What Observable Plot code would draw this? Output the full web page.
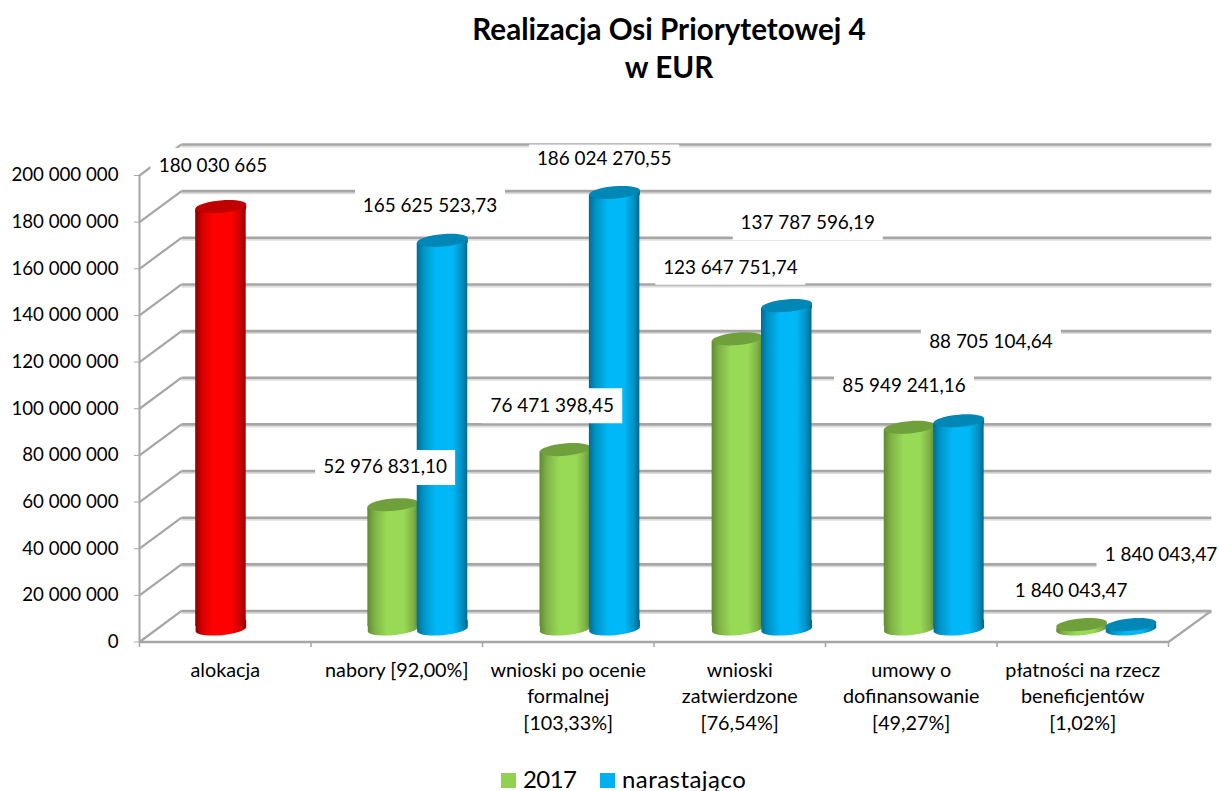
<!DOCTYPE html>
<html lang="pl">
<head>
<meta charset="utf-8">
<script src="https://cdn.jsdelivr.net/npm/d3@7"></script>
<script src="https://cdn.jsdelivr.net/npm/@observablehq/plot@0.6"></script>
<style>
  html, body { margin: 0; padding: 0; background: #fff; width: 1219px; height: 791px; overflow: hidden; font-family: Lato, "Open Sans", sans-serif; color: #000; }
  #title { height: 95px; margin-left: 119px; box-sizing: border-box; padding-top: 10px; text-align: center; font-weight: 700; font-size: 29.6px; line-height: 38px; }
  #chart svg { display: block; overflow: hidden; }
  #legend { position: relative; height: 41px; font-size: 24px; line-height: 24px; }
  #legend span { position: absolute; top: 23px; display: block; width: 15px; height: 15px; }
  #legend b { position: absolute; top: 17px; font-weight: 400; white-space: nowrap; }
</style>
</head>
<body>
<div id="title">Realizacja Osi Priorytetowej 4<br>w EUR</div>
<div id="chart"></div>
<div id="legend">
  <span style="left:501px;background:#92d050"></span><b style="left:523px;letter-spacing:-.6px">2017</b>
  <span style="left:600px;background:#00b0f0"></span><b style="left:622px;letter-spacing:.45px">narastająco</b>
</div>
<script>
// ---- data ----
const categories = [
  "alokacja",
  "nabory [92,00%]",
  "wnioski po ocenie\nformalnej\n[103,33%]",
  "wnioski\nzatwierdzone\n[76,54%]",
  "umowy o\ndofinansowanie\n[49,27%]",
  "płatności na rzecz\nbeneficjentów\n[1,02%]"
];
const alokacja = [180030665];
const values2017 = [null, 52976831.10, 76471398.45, 123647751.74, 85949241.16, 1840043.47];
const valuesNarastajaco = [null, 165625523.73, 186024270.55, 137787596.19, 88705104.64, 1840043.47];
const yTicks = [0, 20e6, 40e6, 60e6, 80e6, 100e6, 120e6, 140e6, 160e6, 180e6, 200e6];

// ---- layout ----
const fontFamily = "Lato, 'Open Sans', sans-serif";
const labelSize = 18.9, tickSize = 18.7, categorySize = 19.8;
const gridColor = "#a6a6a6";
const depthX = 0.245, depthY = 13.3e6;       // 3D depth of the wall, in scale units
const slotStart = 0.475, slotStep = 1.0037, barWidth = 0.2945, seriesOffset = 0.288;
const baseLift = -13, radius = 25.5;
const topLift = (v) => baseLift - (v / 186e6) * 2.6;
const center = (i, s) => slotStart + i * slotStep + s * seriesOffset;

// per-label placement: [category, series, dx, dy, box width, box height]
const labelPlacement = [
  [0, 0, -8, -56.6, 125, 35],
  [1, 0, -8, -51, 140, 35],
  [1, 1, -12.5, -50, 150, 35],
  [2, 0, -13, -58, 140, 35],
  [2, 1, -10.5, -49.6, 150, 28],
  [3, 0, -7, -85.4, 150, 33],
  [3, 1, 21, -98, 150, 35],
  [4, 0, -5.5, -55.3, 140, 35],
  [4, 1, 32, -93.6, 140, 35],
  [5, 0, -10.5, -47.2, 128, 35],
  [5, 1, 30, -83.2, 129, 35]
];

const plLocale = d3.formatLocale({decimal: ",", thousands: " ", grouping: [3], currency: ["", ""]});
const fmt2 = plLocale.format(",.2f"), fmt0 = plLocale.format(",.0f");

const rows = (values, s) => values
  .map((value, i) => ({i, value, s, c: center(i, s)}))
  .filter((d) => d.value != null);
const barRed = rows(alokacja, 0);
const barGreen = rows(values2017, 0);
const barBlue = rows(valuesNarastajaco, 1);

function ellipse(ry, tiltDeg) {
  return {
    draw(ctx, size) {
      const rx = Math.sqrt(size / Math.PI), k = 0.5523, a = tiltDeg * Math.PI / 180;
      const p = (x, y) => [x * Math.cos(a) - y * Math.sin(a), x * Math.sin(a) + y * Math.cos(a)];
      ctx.moveTo(...p(rx, 0));
      ctx.bezierCurveTo(...p(rx, k * ry), ...p(k * rx, ry), ...p(0, ry));
      ctx.bezierCurveTo(...p(-k * rx, ry), ...p(-rx, k * ry), ...p(-rx, 0));
      ctx.bezierCurveTo(...p(-rx, -k * ry), ...p(-k * rx, -ry), ...p(0, -ry));
      ctx.bezierCurveTo(...p(k * rx, -ry), ...p(rx, -k * ry), ...p(rx, 0));
      ctx.closePath();
    }
  };
}
const box = (w, h) => ({
  draw(ctx) { ctx.rect(-w / 2, -h / 2, w, h); }
});
const disc = ellipse(6.2, -5);

const cylinder = (data, fill, capFill) => data.flatMap((d) => {
  const one = [d], top = topLift(d.value), tall = d.value > 5e6;
  const baseShifts = tall ? [0, -1.5, -3, -4.5, -6] : [0];
  const topShifts = tall ? [3.5, 2.5, 1.2] : [2.5];
  return [
    ...baseShifts.map((s) => Plot.dot(one, {x: "c", y: () => 0, r: radius, symbol: disc, fill, dy: baseLift + s})),
    ...(tall ? [Plot.rectY(one, {x1: (r) => r.c - barWidth / 2, x2: (r) => r.c + barWidth / 2, y1: (r) => -(r.value / 186e6) * 1.1e6, y2: "value", fill, dy: top, insetTop: 2.5, insetBottom: 2.5})] : []),
    ...topShifts.map((s) => Plot.dot(one, {x: "c", y: "value", r: radius, symbol: disc, fill, dy: top + s})),
    Plot.dot(one, {x: "c", y: "value", r: radius, symbol: disc, fill: capFill, dy: top})
  ];
});

const labels = labelPlacement.map(([i, s, dx, dy, w, h]) => {
  const bar = i === 0 ? barRed[0] : (s === 0 ? barGreen : barBlue).find((d) => d.i === i);
  return {bar, dx, dy, w, h, text: i === 0 ? fmt0(bar.value) : fmt2(bar.value)};
});

const gradientDefs = () => d3.create("svg:defs").html(`
  <linearGradient id="gRed"><stop offset="0" stop-color="#8c0000"/><stop offset=".14" stop-color="#d80000"/><stop offset=".35" stop-color="#ff0000"/><stop offset=".7" stop-color="#ff0000"/><stop offset=".88" stop-color="#d00000"/><stop offset="1" stop-color="#980000"/></linearGradient>
  <linearGradient id="gGreen"><stop offset="0" stop-color="#5f8a33"/><stop offset=".14" stop-color="#7fb246"/><stop offset=".38" stop-color="#98d955"/><stop offset=".72" stop-color="#98d955"/><stop offset=".9" stop-color="#7fb246"/><stop offset="1" stop-color="#668f38"/></linearGradient>
  <linearGradient id="gBlue"><stop offset="0" stop-color="#006d93"/><stop offset=".14" stop-color="#0095c8"/><stop offset=".38" stop-color="#00b8f7"/><stop offset=".7" stop-color="#00b8f7"/><stop offset=".88" stop-color="#0093c6"/><stop offset="1" stop-color="#00698d"/></linearGradient>
`).node();

const wall = (extra) => [
  Plot.link(yTicks, {x1: () => depthX, x2: () => 6 + depthX + 0.005, y1: (d) => d + depthY, y2: (d) => d + depthY, ...extra}),
];

const plot = Plot.plot({
  width: 1219,
  height: 655,
  marginLeft: 139,
  marginRight: 51,
  marginTop: 80,
  marginBottom: 108.5,
  style: {fontFamily, fontSize: tickSize + "px", background: "#fff", color: "#000"},
  x: {domain: [0, 6], range: [139, 1168], axis: null},
  y: {domain: [0, 200e6], range: [546.5, 80], axis: null},
  marks: [
    gradientDefs,
    // soft shadow and back wall gridlines
    ...wall({stroke: "#dcdcdc", strokeWidth: 2, dy: 2}),
    ...wall({stroke: gridColor, strokeWidth: 2.6}),
    // wall-to-axis diagonals
    Plot.link(yTicks, {x1: () => 0, x2: () => depthX, y1: (d) => d, y2: (d) => d + depthY, stroke: gridColor, strokeWidth: 2.2}),
    Plot.link([0], {x1: () => 6, x2: () => 6 + depthX + 0.005, y1: () => 0, y2: () => depthY, stroke: gridColor, strokeWidth: 2.2}),
    // axes
    Plot.ruleX([0], {y1: 0, y2: 200e6, stroke: gridColor, strokeWidth: 2}),
    Plot.link([0], {x1: () => 0, x2: () => 6, y1: () => 0, y2: () => 0, stroke: gridColor, strokeWidth: 2.6}),
    Plot.ruleX(d3.range(7), {y1: 0, y2: -2.4e6, stroke: gridColor, strokeWidth: 1.5}),
    Plot.axisY({ticks: yTicks, anchor: "left", tickSize: 5, tickPadding: 16, stroke: gridColor, fill: "#000", label: null, tickFormat: (d) => fmt0(d), fontSize: tickSize}),
    // cylinders
    ...cylinder(barRed, "url(#gRed)", "#c00000"),
    ...cylinder(barGreen, "url(#gGreen)", "#70a03c"),
    ...cylinder(barBlue, "url(#gBlue)", "#0087b5"),
    // value labels on white plates
    ...labels.flatMap((l) => [
      Plot.dot([l], {x: (d) => d.bar.c, y: (d) => d.bar.value, r: 1, symbol: box(l.w, l.h), fill: "#fff", dx: l.dx, dy: l.dy}),
      Plot.text([l], {x: (d) => d.bar.c, y: (d) => d.bar.value, text: "text", dx: l.dx, dy: l.dy, fontSize: labelSize, fill: "#000"})
    ]),
    // category labels
    Plot.text(categories, {x: (d, i) => i + 0.5, y: () => 0, text: (d) => d, dy: 16, lineAnchor: "top", lineHeight: 1.34, fontSize: categorySize, fill: "#000"})
  ]
});
document.getElementById("chart").append(plot);
</script>
</body>
</html>
